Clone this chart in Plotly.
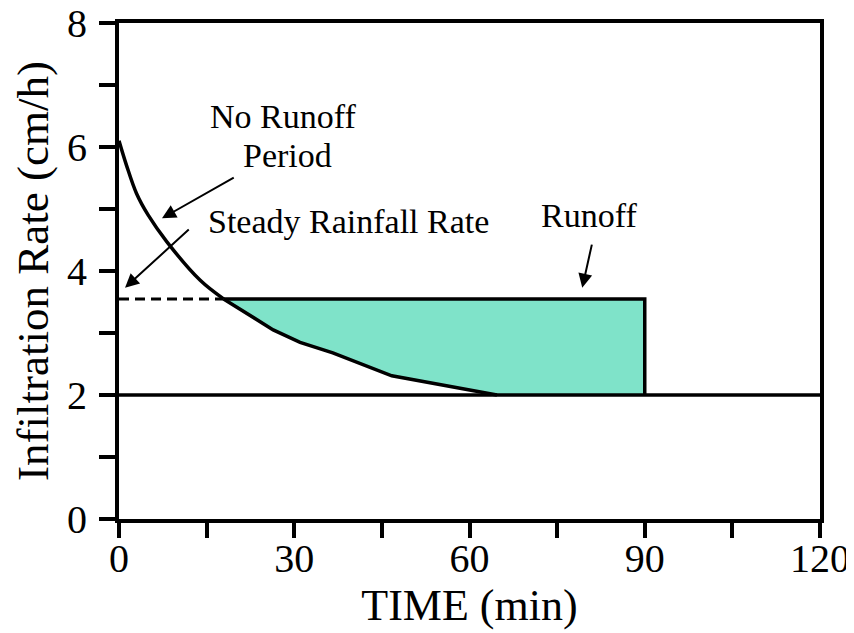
import plotly.graph_objects as go

# Data
early_t = [0, 1.3, 3, 5, 8.2, 13.9, 17.9]
early_f = [6.1, 5.7, 5.25, 4.9, 4.47, 3.85, 3.55]
late_t = [17.9, 26.4, 31, 36.6, 46.7, 56.7, 64.7]
late_f = [3.55, 3.05, 2.85, 2.68, 2.31, 2.14, 2.0]
rain_rate = 3.55
ponding_time = 17.9
rain_end = 90
steady_rate = 2.0
x_range = [0, 120]
y_range = [0, 8]
x_tickvals = [0, 15, 30, 45, 60, 75, 90, 105, 120]
x_ticktext = ["0", "", "30", "", "60", "", "90", "", "120"]
y_tickvals = [0, 1, 2, 3, 4, 5, 6, 7, 8]
y_ticktext = ["0", "", "2", "", "4", "", "6", "", "8"]

FONT = "Liberation Serif, Times New Roman, serif"
FILL = "#7fe3c9"

fig = go.Figure()

# Runoff polygon (between rainfall rate and infiltration curve)
poly_x = late_t + [rain_end, rain_end, ponding_time]
poly_y = late_f + [steady_rate, rain_rate, rain_rate]
fig.add_trace(go.Scatter(x=poly_x, y=poly_y, fill="toself", fillcolor=FILL,
                         mode="lines", line=dict(width=0), hoverinfo="skip"))

# rainfall rate dashed part
fig.add_trace(go.Scatter(x=[0, ponding_time], y=[rain_rate, rain_rate], mode="lines",
                         line=dict(color="black", width=3, dash="10px,6px")))
# rainfall rate solid part with end
fig.add_trace(go.Scatter(x=[ponding_time, rain_end, rain_end], y=[rain_rate, rain_rate, steady_rate],
                         mode="lines", line=dict(color="black", width=3.5)))
# infiltration curve
fig.add_trace(go.Scatter(x=early_t, y=early_f, mode="lines",
                         line=dict(color="black", width=3.5, shape="spline", smoothing=1)))
fig.add_trace(go.Scatter(x=late_t, y=late_f, mode="lines", line=dict(color="black", width=3.5)))
# steady infiltration line (on the label axis)
fig.add_trace(go.Scatter(x=x_range, y=[steady_rate, steady_rate], mode="lines", xaxis="x2",
                         line=dict(color="black", width=3.5)))

# Text labels
texts = [
    ("No Runoff", 28.1, 6.5),
    ("Period", 28.8, 5.87),
    ("Steady Rainfall Rate", 39.3, 4.8),
    ("Runoff", 80.5, 4.9),
]
for txt, tx, ty in texts:
    fig.add_annotation(x=tx, y=ty, text=txt, showarrow=False,
                       font=dict(family=FONT, size=34, color="black"))

# Arrows (head x,y ; tail ax,ay)
arrows = [
    (7.36, 4.85, 19.9, 5.52),
    (1.03, 3.73, 12.2, 4.69),
    (79.3, 3.73, 81.0, 4.45),
]
for hx, hy, tx, ty in arrows:
    fig.add_annotation(x=hx, y=hy, ax=tx, ay=ty, xref="x", yref="y", axref="x", ayref="y",
                       text="", showarrow=True, arrowhead=2, arrowsize=1.4, arrowwidth=2,
                       arrowcolor="black")

fig.update_layout(
    width=846, height=625,
    margin=dict(l=111, r=34, t=15, b=114),
    paper_bgcolor="white", plot_bgcolor="white",
    showlegend=False,
    font=dict(family=FONT, color="black"),
    xaxis=dict(range=x_range, tickvals=x_tickvals, showticklabels=False, automargin=False,
               showgrid=False, zeroline=False, showline=True, linecolor="black", linewidth=4,
               mirror=True, ticks="outside", ticklen=15, tickwidth=4, tickcolor="black"),
    xaxis2=dict(range=x_range, overlaying="x", anchor="y", side="bottom", automargin=False,
                tickvals=x_tickvals, ticktext=x_ticktext, ticks="", showline=False,
                showgrid=False, zeroline=False, ticklabelstandoff=12, ticklabeloverflow="allow",
                tickfont=dict(family=FONT, size=40, color="black"),
                title=dict(text="TIME (min)", font=dict(family=FONT, size=44, color="black"), standoff=0)),
    yaxis=dict(range=y_range, tickvals=y_tickvals, ticktext=y_ticktext, automargin=False,
               showgrid=False, zeroline=False, showline=True, linecolor="black", linewidth=4,
               mirror=True, ticks="outside", ticklen=16, tickwidth=4, tickcolor="black",
               ticklabelstandoff=4, ticklabeloverflow="allow",
               tickfont=dict(family=FONT, size=40, color="black"),
               title=dict(text="Infiltration Rate (cm/h)", font=dict(family=FONT, size=45, color="black"), standoff=28)),
)

fig.write_html("out.html")
